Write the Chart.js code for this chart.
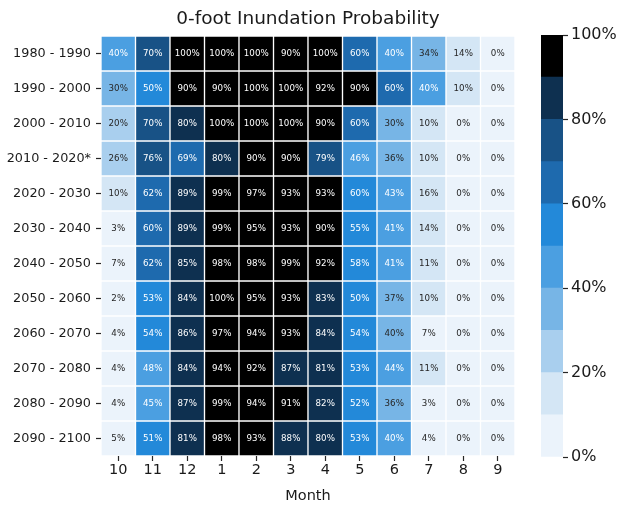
<!DOCTYPE html>
<html>
<head>
<meta charset="utf-8">
<script src="https://cdn.jsdelivr.net/npm/chart.js@4.4.1/dist/chart.umd.min.js"></script>
<style>
  html, body { margin: 0; padding: 0; background: #ffffff; }
  #wrap { position: relative; width: 620px; height: 508px; }
  #heat { position: absolute; left: 0; top: 0; }
  #cbar { position: absolute; left: 520px; top: 0; }
</style>
</head>
<body>
<div id="wrap">
  <canvas id="heat" width="530" height="508"></canvas>
  <canvas id="cbar" width="100" height="508"></canvas>
</div>
<script>
// Month order follows the water year (October first)
const months = ['10', '11', '12', '1', '2', '3', '4', '5', '6', '7', '8', '9'];
const decades = [
  '1980 - 1990', '1990 - 2000', '2000 - 2010', '2010 - 2020*',
  '2020 - 2030', '2030 - 2040', '2040 - 2050', '2050 - 2060',
  '2060 - 2070', '2070 - 2080', '2080 - 2090', '2090 - 2100'
];

// Probability (%) of 0-foot inundation, one array per decade, in month order
const p1980 = [40, 70, 100, 100, 100, 90, 100, 60, 40, 34, 14, 0];
const p1990 = [30, 50, 90, 90, 100, 100, 92, 90, 60, 40, 10, 0];
const p2000 = [20, 70, 80, 100, 100, 100, 90, 60, 30, 10, 0, 0];
const p2010 = [26, 76, 69, 80, 90, 90, 79, 46, 36, 10, 0, 0];
const p2020 = [10, 62, 89, 99, 97, 93, 93, 59.6, 43, 16, 0, 0];
const p2030 = [3, 60, 89, 99, 95, 93, 90, 55, 41, 14, 0, 0];
const p2040 = [7, 62, 85, 98, 98, 99, 92, 58, 41, 11, 0, 0];
const p2050 = [2, 53, 84, 100, 95, 93, 83, 50, 37, 10, 0, 0];
const p2060 = [4, 54, 86, 97, 94, 93, 84, 54, 39.6, 7, 0, 0];
const p2070 = [4, 48, 84, 94, 92, 87, 81, 53, 44, 11, 0, 0];
const p2080 = [4, 45, 87, 99, 94, 91, 82, 52, 36, 3, 0, 0];
const p2090 = [5, 51, 81, 98, 93, 88, 80, 53, 40, 4, 0, 0];
const probabilities = [p1980, p1990, p2000, p2010, p2020, p2030,
                       p2040, p2050, p2060, p2070, p2080, p2090];

// Colour scale: ten 10% bins
const binEdges = [0, 10, 20, 30, 40, 50, 60, 70, 80, 90, 100];
const binColors = ['#ebf3fb', '#d4e6f5', '#a9cfee', '#77b5e6', '#4b9fe1',
                   '#2389d9', '#1e6aae', '#185286', '#0e3050', '#000000'];
const colorbarTicks = [0, 20, 40, 60, 80, 100];

function binIndex(v) {
  return Math.min(binColors.length - 1, Math.floor(v / 10));
}
function binColor(v) { return binColors[binIndex(v)]; }

Chart.defaults.font.family = '"DejaVu Sans", sans-serif';
Chart.defaults.color = '#262626';

// Writes each cell's percentage in the middle of its rectangle
const cellLabels = {
  id: 'cellLabels',
  afterDatasetsDraw(chart) {
    const ctx = chart.ctx;
    ctx.save();
    ctx.font = '8.7px "DejaVu Sans", sans-serif';
    ctx.textAlign = 'center';
    ctx.textBaseline = 'middle';
    chart.data.datasets.forEach((ds, r) => {
      chart.getDatasetMeta(r).data.forEach((el, c) => {
        const v = probabilities[r][c];
        const pt = el.getCenterPoint();
        ctx.fillStyle = binIndex(v) >= 4 ? '#ffffff' : '#262626';
        ctx.fillText(Math.round(v) + '%', pt.x, pt.y + 0.5);
      });
    });
    ctx.restore();
  }
};

// Heatmap: each decade is a row of floating bars spanning [row, row + 1]
const rowDatasets = decades.map((d, r) => ({
  label: d,
  data: months.map(() => [r, r + 1]),
  backgroundColor: probabilities[r].map(binColor),
  borderColor: '#ffffff',
  borderWidth: 1,
  borderSkipped: false,
  grouped: false,
  barPercentage: 1,
  categoryPercentage: 1
}));

new Chart(document.getElementById('heat'), {
  type: 'bar',
  data: { labels: months, datasets: rowDatasets },
  options: {
    responsive: false,
    devicePixelRatio: 1,
    animation: false,
    layout: { padding: { left: 0, right: 15, top: 0, bottom: 0 } },
    plugins: {
      legend: { display: false },
      tooltip: { enabled: false },
      title: {
        display: true,
        fullSize: false,
        text: '0-foot Inundation Probability',
        color: '#1a1a1a',
        font: { size: 18.5, weight: 'normal' },
        padding: { top: 8, bottom: 5.8 }
      }
    },
    scales: {
      x: {
        type: 'category',
        border: { display: false },
        grid: { display: true, drawOnChartArea: false, offset: false,
                tickLength: 5, tickColor: '#262626', tickWidth: 1.2 },
        ticks: { padding: 1, font: { size: 14.5 }, color: '#1a1a1a', maxRotation: 0 },
        title: { display: true, text: 'Month', font: { size: 14.5 },
                 color: '#1a1a1a', padding: { top: 0, bottom: 3 } },
        afterFit(scale) { scale.height = 52; }
      },
      y: {
        type: 'linear',
        min: 0,
        max: decades.length,
        reverse: true,
        border: { display: false },
        grid: { display: true, drawOnChartArea: false,
                tickLength: 5, tickColor: '#262626', tickWidth: 1.2 },
        afterBuildTicks(scale) {
          scale.ticks = decades.map((d, i) => ({ value: i + 0.5 }));
        },
        ticks: {
          autoSkip: false,
          padding: 5,
          font: { size: 12.8 },
          color: '#1a1a1a',
          callback: (value, index) => decades[index]
        },
        afterFit(scale) { scale.width = 101; }
      }
    }
  },
  plugins: [cellLabels]
});

// Colour bar: one floating bar per bin on a 0-100% scale
const binDatasets = binColors.map((col, k) => ({
  data: [[binEdges[k], binEdges[k + 1]]],
  backgroundColor: col,
  borderWidth: 0,
  grouped: false,
  barPercentage: 1,
  categoryPercentage: 1
}));

new Chart(document.getElementById('cbar'), {
  type: 'bar',
  data: { labels: [''], datasets: binDatasets },
  options: {
    responsive: false,
    devicePixelRatio: 1,
    animation: false,
    layout: { padding: { left: 21, right: 0, top: 35, bottom: 51 } },
    plugins: { legend: { display: false }, tooltip: { enabled: false } },
    scales: {
      x: { display: false },
      y: {
        type: 'linear',
        position: 'right',
        min: 0,
        max: 100,
        border: { display: false },
        grid: { display: true, drawOnChartArea: false,
                tickLength: 5, tickColor: '#262626', tickWidth: 1.2 },
        afterBuildTicks(scale) {
          scale.ticks = colorbarTicks.map(v => ({ value: v }));
        },
        ticks: {
          padding: 3,
          font: { size: 16 },
          color: '#1a1a1a',
          callback: (value) => value + '%'
        },
        afterFit(scale) { scale.width = 57; }
      }
    }
  }
});
</script>
</body>
</html>
